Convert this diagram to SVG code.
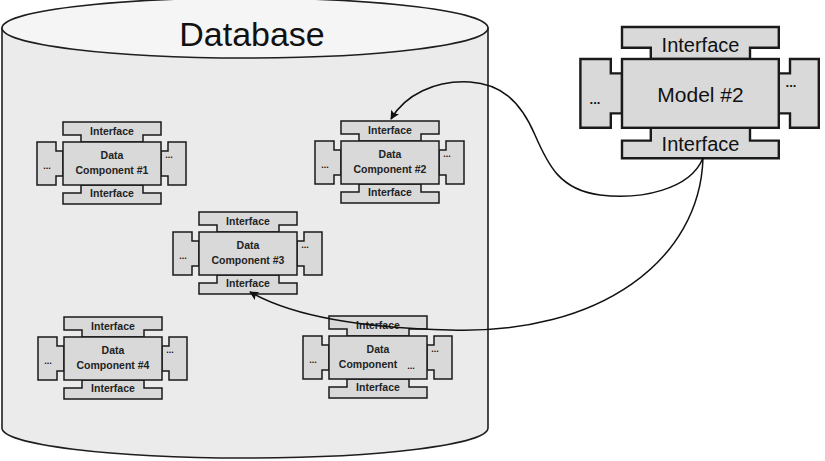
<svg xmlns="http://www.w3.org/2000/svg" xmlns:xlink="http://www.w3.org/1999/xlink" width="825" height="461" viewBox="0 0 825 461">
<style>
.cyl{fill:#ebebeb;stroke:#1e1e1e;stroke-width:1.6}
.cyltop{fill:#f5f5f5;stroke:#1e1e1e;stroke-width:1.6}
.sh{fill:#d9d9d9;stroke:#1a1a1a;stroke-width:1.5;stroke-linejoin:miter}
.t{font-family:"Liberation Sans",Arial,sans-serif;fill:#111;text-anchor:middle}
.s{font-size:10.5px;font-weight:bold;fill:#222}
.d{font-size:9px;font-weight:bold}
.m{font-size:20px}
.conn{fill:none;stroke:#111;stroke-width:1.5}
</style>
<defs>
<g id="comp">
<path class="sh" d="M0,-20 H98 V-7 H80 V0 H18 V-7 H0 Z"/>
<path class="sh" d="M18,43 V51 H0 V62 H98 V51 H80 V43 Z"/>
<path class="sh" d="M0,9 H-7 V0 H-26 V43 H-7 V34 H0 Z"/>
<path class="sh" d="M98,9 H105 V0 H123 V43 H105 V34 H98 Z"/>
<rect class="sh" x="0" y="0" width="98" height="43"/>
</g>
<marker id="arr" viewBox="0 0 10 10" refX="9" refY="5" markerWidth="10" markerHeight="9" markerUnits="userSpaceOnUse" orient="auto">
<path d="M0,0 L10,5 L0,10 L2,5 Z" fill="#111"/>
</marker>
</defs>

<g id="database">
<path class="cyl" d="M2,28 V428 A243,30 0 0 0 488,428 V28 Z"/>
<ellipse class="cyltop" cx="245" cy="28" rx="243" ry="30"/>
<text class="t" x="252" y="46" font-size="34">Database</text>
</g>

<g id="dc1">
<use xlink:href="#comp" transform="translate(63,142)"/>
<text class="t s" x="112" y="135">Interface</text>
<text class="t s" x="112" y="159">Data</text>
<text class="t s" x="112" y="174">Component #1</text>
<text class="t s" x="112" y="197">Interface</text>
<text class="t d" x="47" y="169">...</text>
<text class="t d" x="169" y="158">...</text>
</g>

<g id="dc2">
<use xlink:href="#comp" transform="translate(341,141)"/>
<text class="t s" x="390" y="134">Interface</text>
<text class="t s" x="390" y="158">Data</text>
<text class="t s" x="390" y="173">Component #2</text>
<text class="t s" x="390" y="196">Interface</text>
<text class="t d" x="325" y="168">...</text>
<text class="t d" x="447" y="157">...</text>
</g>

<g id="dc3">
<use xlink:href="#comp" transform="translate(199,232)"/>
<text class="t s" x="248" y="225">Interface</text>
<text class="t s" x="248" y="249">Data</text>
<text class="t s" x="248" y="264">Component #3</text>
<text class="t s" x="248" y="287">Interface</text>
<text class="t d" x="183" y="259">...</text>
<text class="t d" x="305" y="248">...</text>
</g>

<g id="dc4">
<use xlink:href="#comp" transform="translate(64,337)"/>
<text class="t s" x="113" y="330">Interface</text>
<text class="t s" x="113" y="354">Data</text>
<text class="t s" x="113" y="369">Component #4</text>
<text class="t s" x="113" y="392">Interface</text>
<text class="t d" x="48" y="364">...</text>
<text class="t d" x="170" y="353">...</text>
</g>

<g id="dc5">
<use xlink:href="#comp" transform="translate(329,336)"/>
<text class="t s" x="378" y="329">Interface</text>
<text class="t s" x="378" y="353">Data</text>
<text class="t s" x="368" y="368">Component</text>
<text class="t d" x="411" y="369">...</text>
<text class="t s" x="378" y="391">Interface</text>
<text class="t d" x="313" y="363">...</text>
<text class="t d" x="435" y="352">...</text>
</g>

<g id="model2">
<use xlink:href="#comp" transform="translate(622,59) scale(1.6)"/>
<text class="t m" x="700.5" y="52">Interface</text>
<text class="t" x="700.5" y="102" font-size="21">Model #2</text>
<text class="t m" x="700.5" y="151">Interface</text>
<text class="t" x="595" y="104" font-size="13" font-weight="bold">...</text>
<text class="t" x="791" y="87" font-size="13" font-weight="bold">...</text>
</g>

<g id="connectors">
<path class="conn" marker-end="url(#arr)" d="M703,158 C690,190 640,200 600,195 C560,190 548,165 535,135 C520,100 500,84 470,82 C435,80 405,95 391,119"/>
<path class="conn" marker-end="url(#arr)" d="M703,158 C700,260 600,335 450,330 C360,328 290,315 250,292"/>
</g>
</svg>
